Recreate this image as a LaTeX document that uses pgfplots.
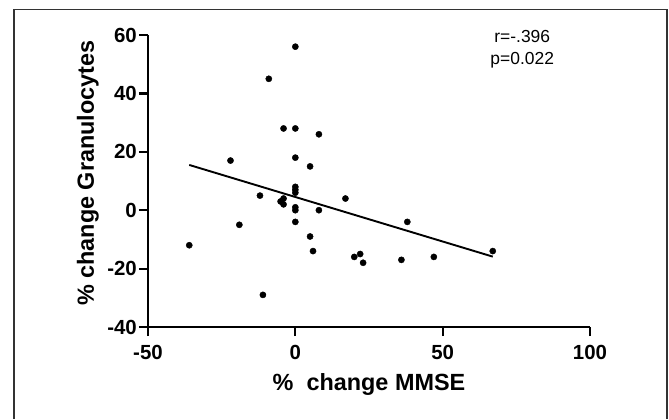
\documentclass[border=0pt]{standalone}
\usepackage{pgfplots}
\pgfplotsset{compat=1.18}
\usepackage{fontspec}
\setmainfont{Liberation Sans}

\begin{document}
\begin{tikzpicture}[x=1bp,y=1bp]
	% page = 669 x 419, axis lower left at (148,92) from lower left
	\useasboundingbox (-148,-92) rectangle (521,327);
	\draw[line width=1.2bp, black!80] (-134,-92) -- (-134,317.5) -- (519,317.5) -- (519,-92);

	\begin{axis}[
		at				= {(0,0)},
		anchor			= south west,
		scale only axis,
		width			= 442bp,
		height			= 292bp,
		axis lines		= left,
		axis line style	= {line width=2.2bp, -},
		xmin			= -50, xmax = 100,
		ymin			= -40, ymax = 60,
		xtick			= {-50, 0, 50, 100},
		ytick			= {-40, -20, 0, 20, 40, 60},
		tick align		= outside,
		major tick length = 9bp,
		tick style		= {line width=2.2bp, black},
		ticklabel style	= {font=\bfseries\fontsize{20.5}{20.5}\selectfont, inner sep=2bp},
		xticklabel style = {yshift=-7bp},
		/pgf/number format/assume math mode=true,
		xlabel			= {\%\ \ change MMSE},
		ylabel			= {\% change Granulocytes},
		label style		= {font=\bfseries\fontsize{23.5}{23.5}\selectfont},
		xlabel style	= {at={(axis description cs:0.5,-0.2158)}, anchor=base},
		ylabel style	= {at={(axis description cs:-0.1222,0.527)}, anchor=base},
		clip			= false,
	]

		% individual subjects
		\addplot[only marks, mark=*, mark size=3.1bp, black] coordinates {
			(0, 56) (-9, 45) (-4, 28) (0, 28) (8, 26) (0, 18)
			(-22, 17) (5, 15) (0, 8) (0, 7) (0, 6) (-12, 5)
			(17, 4) (-5, 3) (-4, 4) (-4, 2) (0, 1) (0, 0)
			(8, 0) (0, -4) (38, -4) (-19, -5) (5, -9) (-36, -12)
			(6, -14) (20, -16) (22, -15) (23, -18) (36, -17)
			(47, -16) (67, -14) (-11, -29)
		};

		% regression line
		\addplot[black, line width=1.9bp] coordinates {(-36, 15.5) (67, -15.9)};

		\node[font=\fontsize{17.5}{17.5}\selectfont, anchor=base] at (axis cs: 77, 57.5) {r=-.396};
		\node[font=\fontsize{17.5}{17.5}\selectfont, anchor=base] at (axis cs: 77, 50) {p=0.022};

	\end{axis}
\end{tikzpicture}
\end{document}
